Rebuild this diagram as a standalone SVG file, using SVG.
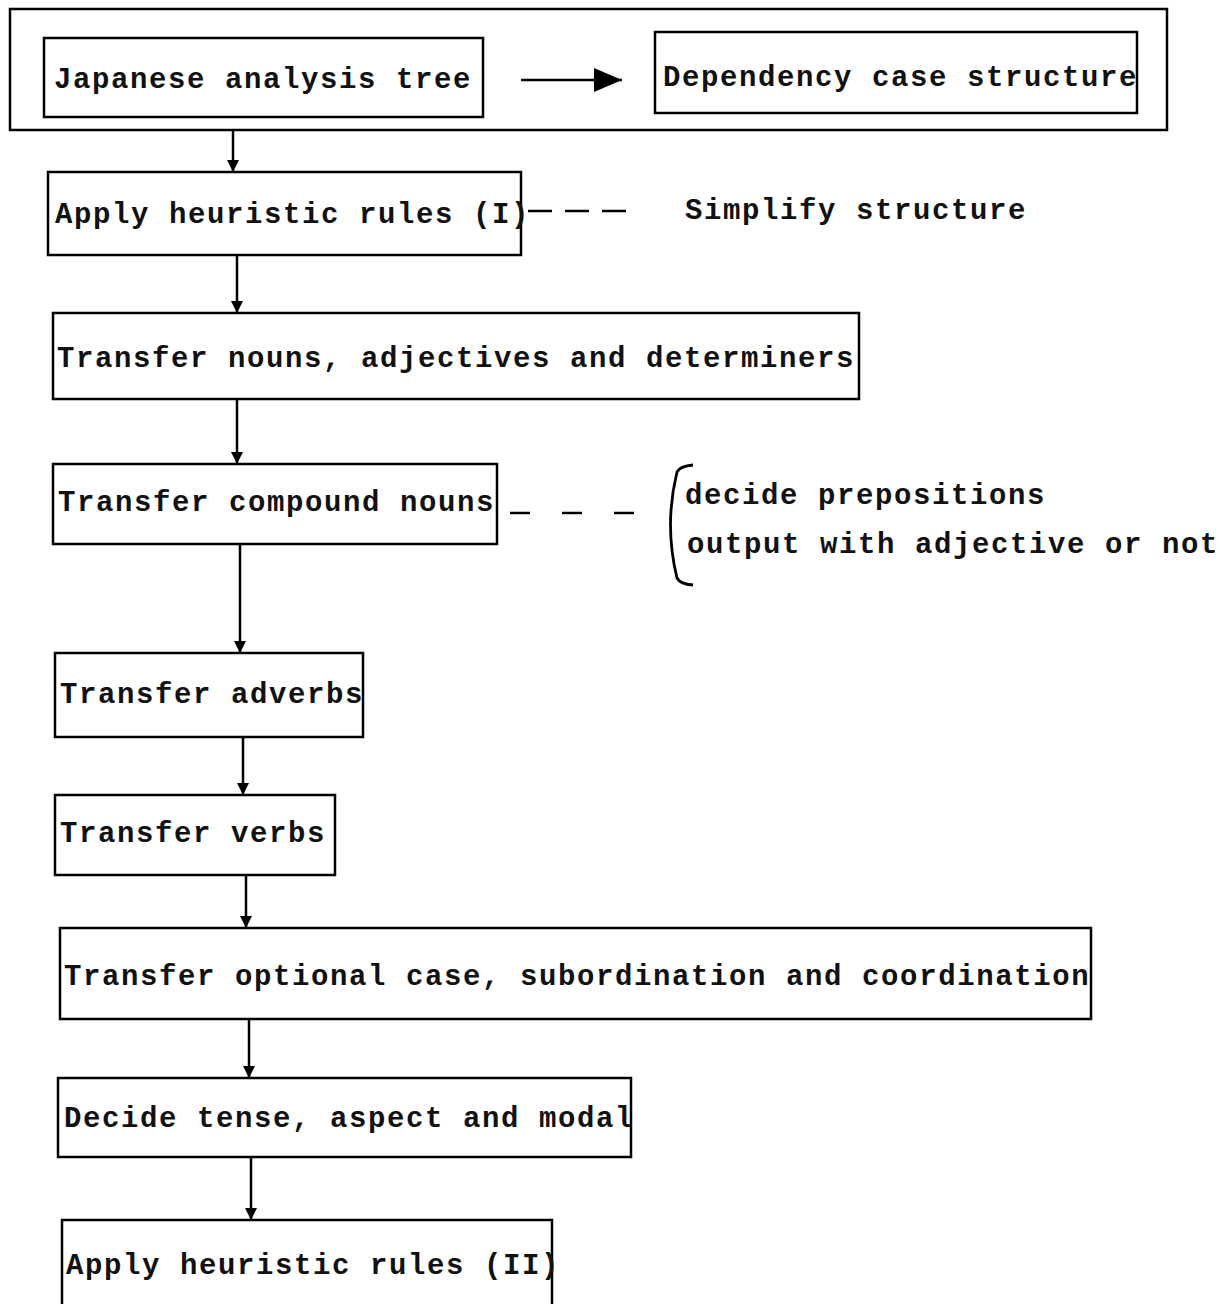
<svg xmlns="http://www.w3.org/2000/svg" width="1220" height="1304" viewBox="0 0 1220 1304">
<defs>
<marker id="ah" viewBox="0 0 12 20" refX="12" refY="10" markerWidth="12" markerHeight="20" markerUnits="userSpaceOnUse" orient="auto">
<path d="M0,4 L12,10 L0,16 Z" fill="#000"/>
</marker>
<marker id="ahb" viewBox="0 0 28 24" refX="28" refY="12" markerWidth="28" markerHeight="24" markerUnits="userSpaceOnUse" orient="auto">
<path d="M0,0 L28,12 L0,24 Z" fill="#000"/>
</marker>
</defs>
<style>
rect{fill:none;stroke:#000;stroke-width:2.5}
text{font-family:"Liberation Mono","Courier New",monospace;font-size:29px;font-weight:bold;letter-spacing:1.6px;fill:#111}
.c line,.c path{stroke:#000;stroke-width:2.5;fill:none}
</style>
<rect width="1220" height="1304" fill="#fff" style="fill:#fff;stroke:none"/>
<g id="outer"><rect x="10" y="9" width="1157" height="121"/></g>
<g id="n1"><rect x="44" y="38" width="439" height="79"/><text x="54" y="88">Japanese analysis tree</text></g>
<g id="n2"><rect x="655" y="32" width="482" height="81"/><text x="663" y="86">Dependency case structure</text></g>
<g id="n3"><rect x="48" y="172" width="473" height="83"/><text x="55" y="223">Apply heuristic rules (I)</text></g>
<g id="n3note"><text x="685" y="219">Simplify structure</text></g>
<g id="n4"><rect x="53" y="313" width="806" height="86"/><text x="57" y="367">Transfer nouns, adjectives and determiners</text></g>
<g id="n5"><rect x="53" y="464" width="444" height="80"/><text x="58" y="511">Transfer compound nouns</text></g>
<g id="n5note"><path d="M693,465 Q680,466 677,472 Q664,525 677,578 Q680,584 693,585" style="fill:none;stroke:#000;stroke-width:2.8"/><text x="685" y="504">decide prepositions</text><text x="687" y="553">output with adjective or not</text></g>
<g id="n6"><rect x="55" y="653" width="308" height="84"/><text x="60" y="703">Transfer adverbs</text></g>
<g id="n7"><rect x="55" y="795" width="280" height="80"/><text x="60" y="842">Transfer verbs</text></g>
<g id="n8"><rect x="60" y="928" width="1031" height="91"/><text x="64" y="985">Transfer optional case, subordination and coordination</text></g>
<g id="n9"><rect x="58" y="1078" width="573" height="79"/><text x="64" y="1127">Decide tense, aspect and modal</text></g>
<g id="n10"><rect x="62" y="1220" width="490" height="100"/><text x="66" y="1274">Apply heuristic rules (II)</text></g>
<g class="c" id="connectors">
<line x1="521" y1="80" x2="622" y2="80" marker-end="url(#ahb)"/>
<line x1="233" y1="131" x2="233" y2="172" marker-end="url(#ah)"/>
<line x1="528" y1="211" x2="627" y2="211" style="stroke-dasharray:24 13"/>
<line x1="510" y1="513" x2="640" y2="513" style="stroke-dasharray:20 32"/>
<line x1="237" y1="255" x2="237" y2="313" marker-end="url(#ah)"/>
<line x1="237" y1="399" x2="237" y2="464" marker-end="url(#ah)"/>
<line x1="240" y1="544" x2="240" y2="653" marker-end="url(#ah)"/>
<line x1="243" y1="737" x2="243" y2="795" marker-end="url(#ah)"/>
<line x1="246" y1="875" x2="246" y2="928" marker-end="url(#ah)"/>
<line x1="249" y1="1019" x2="249" y2="1078" marker-end="url(#ah)"/>
<line x1="251" y1="1157" x2="251" y2="1220" marker-end="url(#ah)"/>
</g>
</svg>
